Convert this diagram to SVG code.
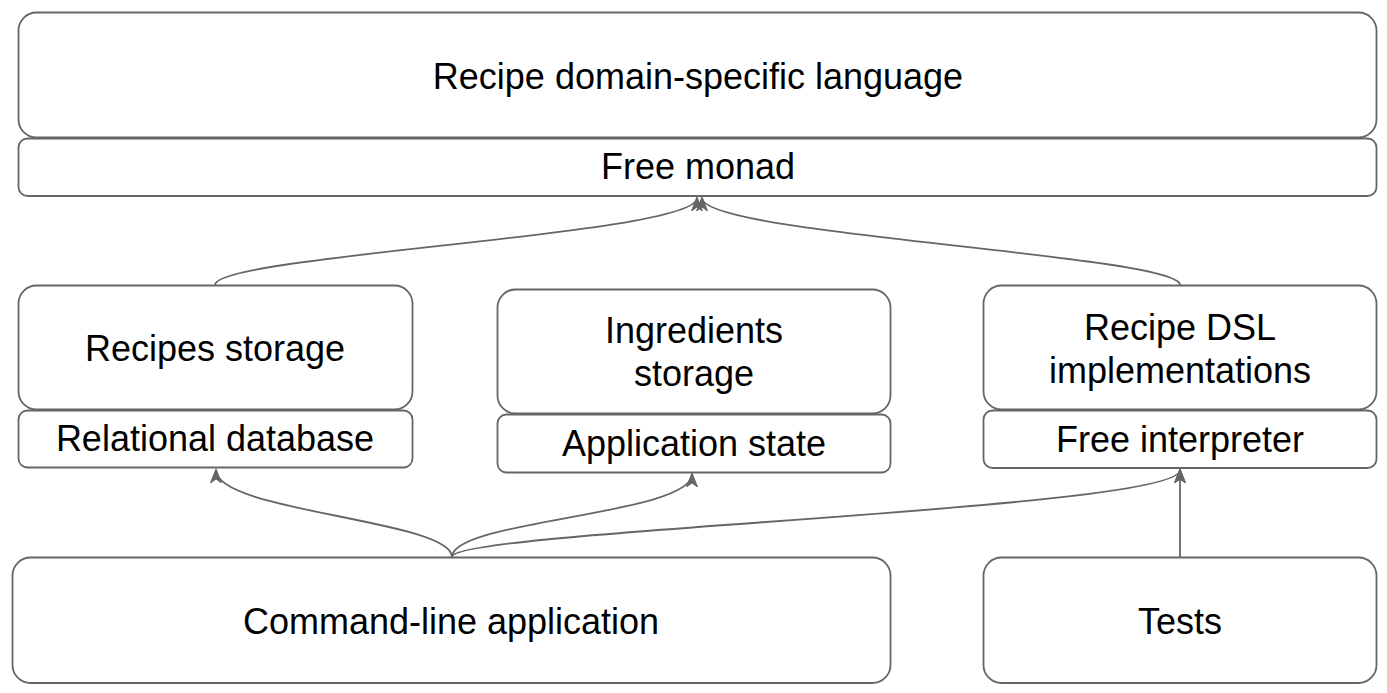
<svg xmlns="http://www.w3.org/2000/svg" width="1387" height="693" viewBox="0 0 1387 693">
<style>
.box{fill:#ffffff;stroke:#666666;stroke-width:1.8}
.t{font-family:"Liberation Sans",Arial,sans-serif;font-size:36px;fill:#000000;text-anchor:middle}
.e{fill:none;stroke:#666666;stroke-width:1.8}
</style>
<defs>
<marker id="arr" viewBox="0 0 14 12" refX="13" refY="6" markerWidth="14" markerHeight="12" markerUnits="userSpaceOnUse" orient="auto">
<path d="M0,0.5 L14,6 L0,11.5 L4,6 Z" fill="#666666" stroke="#666666" stroke-width="1"/>
</marker>
</defs>
<rect width="1387" height="693" fill="#ffffff"/>
<g id="dsl">
<rect class="box" x="18.5" y="12.5" width="1358" height="125" rx="18"/>
<text class="t" x="698" y="89">Recipe domain-specific language</text>
</g>
<g id="free-monad">
<rect class="box" x="18.5" y="138.5" width="1358" height="57.5" rx="9"/>
<text class="t" x="698" y="179">Free monad</text>
</g>
<g id="recipes-storage">
<rect class="box" x="18.5" y="285.5" width="394" height="124" rx="18"/>
<text class="t" x="215" y="361">Recipes storage</text>
</g>
<g id="relational-db">
<rect class="box" x="18.5" y="410.5" width="394" height="57" rx="9"/>
<text class="t" x="215" y="451">Relational database</text>
</g>
<g id="ingredients-storage">
<rect class="box" x="497.5" y="289.5" width="393" height="124" rx="18"/>
<text class="t" x="694" y="343">Ingredients</text>
<text class="t" x="694" y="386">storage</text>
</g>
<g id="app-state">
<rect class="box" x="497.5" y="414.5" width="393" height="58" rx="9"/>
<text class="t" x="694" y="456">Application state</text>
</g>
<g id="recipe-dsl-impl">
<rect class="box" x="983.5" y="285.5" width="393" height="124" rx="18"/>
<text class="t" x="1180" y="340">Recipe DSL</text>
<text class="t" x="1180" y="383">implementations</text>
</g>
<g id="free-interpreter">
<rect class="box" x="983.5" y="410.5" width="393" height="57.5" rx="9"/>
<text class="t" x="1180" y="452">Free interpreter</text>
</g>
<g id="cli">
<rect class="box" x="12.5" y="557.5" width="878" height="125.5" rx="18"/>
<text class="t" x="451" y="634">Command-line application</text>
</g>
<g id="tests">
<rect class="box" x="983.5" y="557.5" width="393" height="125.5" rx="18"/>
<text class="t" x="1180" y="634">Tests</text>
</g>
<g id="connectors">
<path class="e" d="M215,285 C215,255 697,235 697,198" marker-end="url(#arr)"/>
<path class="e" d="M1180,285 C1180,255 702,235 702,198" marker-end="url(#arr)"/>
<path class="e" d="M452,557 C452,520 216,512 216,470" marker-end="url(#arr)"/>
<path class="e" d="M452,557 C452,520 692,515 692,474" marker-end="url(#arr)"/>
<path class="e" d="M452,557 C452,530 1180,510 1180,470" marker-end="url(#arr)"/>
<path class="e" d="M1180,557 L1180,470" marker-end="url(#arr)"/>
</g>
</svg>
